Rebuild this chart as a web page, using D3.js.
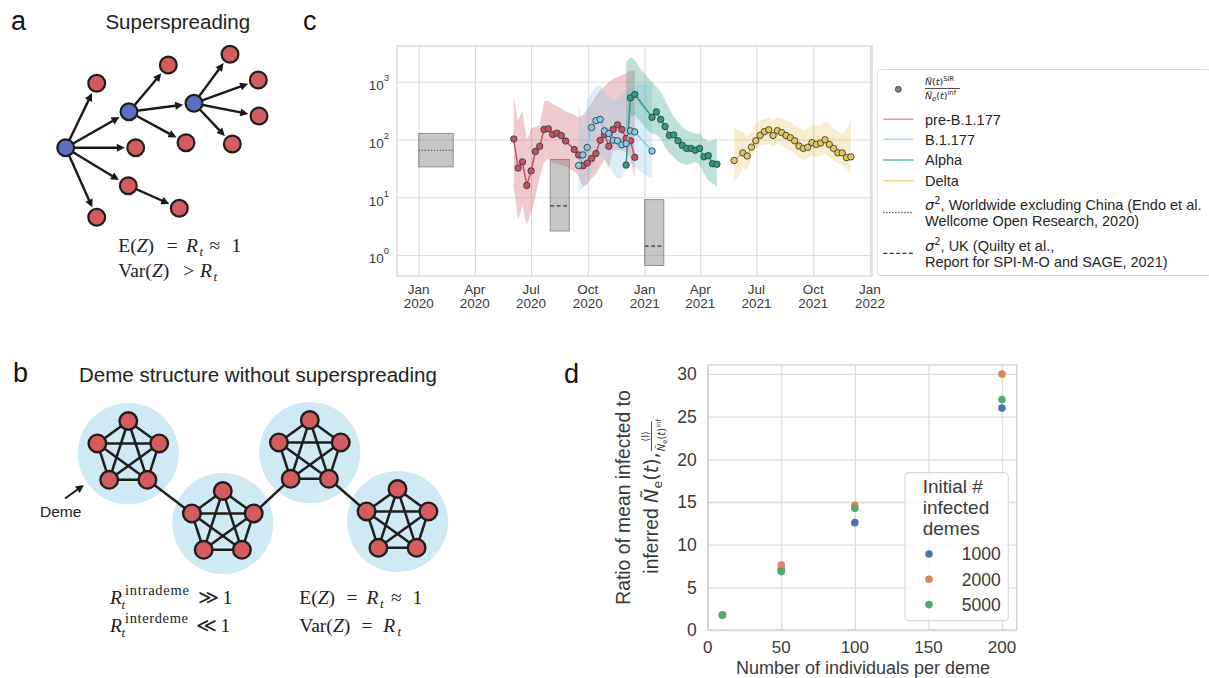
<!DOCTYPE html>
<html>
<head>
<meta charset="utf-8">
<script src="https://cdn.jsdelivr.net/npm/d3@7"></script>
<style>
  body { margin: 0; background: #fff; }
</style>
</head>
<body>
<svg id="fig" width="1209" height="678" font-family='"Liberation Sans", Arial, sans-serif'></svg>
<script>
// ================= data =================
// Panel c: weekly ratio of SIR-inferred to coalescent-inferred size, by lineage.
// Weeks are counted from weekOrigin; null = no estimate for that week.
const weekOrigin = "2020-06-03";

const preWeek  = [0,1,2,3,4,5,6,7,8,9,10,11,12,13,14,15,16,17,18,19,20,21,22,23,24,25,26,27,28];
const preRatio = [102,32,41,16,28.6,62,76,149,153,122,129,117,94,null,67,54,35,39,47,57,97,122,76,149,179,149,104,95,49];
const preLo    = [15,4.0,7.2,3.3,5.3,10,22,40,47,40,38,36,34,31,28,23,15,16.8,21,25,34,44,32,65,65,65,60,44,22];
const preHi    = [520,216,313,97,157,165,177,449,467,409,378,347,309,290,264,243,264,323,426,562,714,836,980,1140,1200,1300,1410,1530,1590];

const b1177Week  = [15,16,17,18,19,20,21,22,23,24,25,26,27,28,29,30,31,32];
const b1177Ratio = [35.4,54,72.6,161,212,222,141,127,97,95,81,85,141,135,null,null,null,63];
const b1177Lo    = [11.7,14.9,17.5,29,44,57,50,36,25.7,21,21.4,33,39,34,29,26,23,21];
const b1177Hi    = [430,145,480,627,815,870,668,548,480,480,633,714,805,870,910,910,926,936];

const alphaWeek  = [26,27,28,29,30,31,32,33,34,35,36,37,38,39,40,41,42,43,44,45,46,47];
const alphaRatio = [36,526,603,null,null,null,242,301,222,168,118,120,95,79,70,70,65,70,50,52.5,38,37.3];
const alphaLo    = [33,247,264,216,177,145,127,119,104,74,57,50,41,38,36,38,41,36,25.7,19.7,17.3,15];
const alphaHi    = [2180,2670,2370,1790,1470,1200,1000,816,668,480,344,247,202,165,145,135,127,127,104,91,97,104];

const deltaWeek  = [51,52,53,54,55,56,57,58,59,60,61,62,63,64,65,66,67,68,69,70,71,72,73,74,75,76,77,78];
const deltaRatio = [43.3,null,58.6,51.8,73.6,95,118,137,147,117,142,131,117,107,95,77,70,73,88,82,87,99,82,70,58.6,58.6,48.4,50];
const deltaLo    = [18.4,22,33,29,50,70,80,80,85,74.5,85,80,70,65,57,47,44,47,53,50,53,57,50,44,38,36,31,26];
const deltaHi    = [155,145,135,111,135,189,216,231,246,216,246,231,216,202,177,155,145,155,189,177,177,202,189,155,135,127,145,216];

// Published offspring-variance estimates (sigma^2): period and range
const sigmaStart = ["2020-01-01", "2020-08-01", "2021-01-01"];
const sigmaEnd   = ["2020-02-26", "2020-09-01", "2021-02-01"];
const sigmaLo    = [33.5, 2.6, 0.66];
const sigmaHi    = [127, 45, 9.1];
const sigmaMid   = [65, 7.1, 1.43];

const cTickDates  = ["2020-01-01","2020-04-01","2020-07-01","2020-10-01","2021-01-01","2021-04-01","2021-07-01","2021-10-01","2022-01-01"];
const cTickMonth  = ["Jan","Apr","Jul","Oct","Jan","Apr","Jul","Oct","Jan"];
const cTickYear   = ["2020","2020","2020","2020","2021","2021","2021","2021","2022"];
const cYTicks     = [1, 10, 100, 1000];
const cYExponents = ["0","1","2","3"];

const lineageNames = ["pre-B.1.177", "B.1.177", "Alpha", "Delta"];
const sigmaLabels = [
  ["Worldwide excluding China (Endo et al.", "Wellcome Open Research, 2020)"],
  ["UK (Quilty et al.,", "Report for SPI-M-O and SAGE, 2021)"]
];

// Panel d: ratio of mean infected to inferred size vs deme size
const demeSizes    = [10, 50, 100, 200];
const initialDemes = ["1000", "2000", "5000"];
const ratio1000    = [1.75, 7.15, 12.58, 26.0];
const ratio2000    = [1.75, 7.62, 14.6, 30.0];
const ratio5000    = [1.76, 6.84, 14.26, 27.0];
const dXTicks = [0, 50, 100, 150, 200];
const dYTicks = [0, 5, 10, 15, 20, 25, 30];

// Panel a: transmission tree (x, y, 1 = superspreader)
const treeNodes = [
  [65.7,147.7,1],[129,111.7,1],[194,103.3,1],
  [96.7,83.3,0],[168.3,65,0],[230,54.3,0],[258.3,80,0],[259,116,0],[232.3,144,0],
  [186,142.7,0],[135.7,147.7,0],[128.3,185.7,0],[179.3,208.3,0],[96.7,217.3,0]
];
const treeEdges = [[0,3],[0,1],[0,10],[0,11],[0,13],[1,4],[1,2],[1,9],[2,5],[2,6],[2,7],[2,8],[11,12]];

// Panel b: demes (centres) and the links between them [deme, node, deme, node]
const demeCenters = [[128.3,453.5],[222.8,523.5],[309.8,452.5],[397.5,521.5]];
const demeLinks = [[0,2,1,4],[1,1,2,3],[2,2,3,4]];

// ================= drawing =================
const svg = d3.select("#fig");
const parseDay = d3.timeParse("%Y-%m-%d");
const origin = parseDay(weekOrigin);
const SERIF = '"Liberation Serif", "Times New Roman", serif';
const MATH = '"DejaVu Sans", sans-serif';
const INK = "#262626";
const GRID = "#dcdcdc";
const RED = "#d45c5e", BLUE = "#5b6fc2", NODE_EDGE = "#1e1e1e";

const defs = svg.append("defs");
defs.append("marker").attr("id", "arrowHead")
  .attr("viewBox", "0 0 10 10").attr("refX", 5).attr("refY", 5)
  .attr("markerUnits", "userSpaceOnUse").attr("markerWidth", 10).attr("markerHeight", 8)
  .attr("orient", "auto")
  .append("path").attr("d", "M0,0 L10,5 L0,10 z").attr("fill", "#1a1a1a");

// panel letters
[["a",11,29.5],["b",13,381.5],["c",303,30],["d",564,382.5]].forEach(([s,x,y]) =>
  svg.append("text").attr("x", x).attr("y", y).attr("font-size", 27).attr("fill", "#111").text(s));

// math helper: pieces = [{t, x, it, dy, fs, len}]
function mathLine(g, y, pieces, fs) {
  const t = g.append("text").attr("y", y).attr("font-family", SERIF).attr("font-size", fs).attr("fill", "#222");
  pieces.forEach(p => {
    const s = t.append("tspan").text(p.t);
    if (p.x != null) s.attr("x", p.x);
    if (p.it) s.attr("font-style", "italic");
    if (p.dy) s.attr("dy", p.dy);
    if (p.fs) s.attr("font-size", p.fs);
    if (p.len) s.attr("textLength", p.len).attr("lengthAdjust", "spacing");
  });
  return t;
}

// ---------- panel a ----------
const gA = svg.append("g");
gA.append("text").attr("x", 177.8).attr("y", 29).attr("text-anchor", "middle")
  .attr("font-size", 20.5).attr("fill", "#222").text("Superspreading");
const nodeR = 9.4;
treeEdges.forEach(([s, t]) => {
  const [x1, y1] = treeNodes[s], [x2, y2] = treeNodes[t];
  const dx = x2 - x1, dy = y2 - y1, L = Math.hypot(dx, dy);
  const back = nodeR + 0.5 + 5;
  gA.append("line").attr("x1", x1).attr("y1", y1)
    .attr("x2", x2 - dx / L * back).attr("y2", y2 - dy / L * back)
    .attr("stroke", "#1a1a1a").attr("stroke-width", 2.4).attr("marker-end", "url(#arrowHead)");
});
gA.selectAll("circle").data(treeNodes).join("circle")
  .attr("cx", d => d[0]).attr("cy", d => d[1]).attr("r", nodeR - 1)
  .attr("fill", d => d[2] ? BLUE : RED).attr("stroke", NODE_EDGE).attr("stroke-width", 2.2);

mathLine(gA, 252.3, [
  {t:"E(", x:118.3}, {t:"Z", it:true}, {t:")"}, {t:"=", x:166.7}, {t:"R", x:186, it:true},
  {t:"t", x:199.5, it:true, dy:4, fs:13}, {t:"≈", x:209.5, dy:-4}, {t:"1", x:231.5}
], 19.5);
mathLine(gA, 277.3, [
  {t:"Var(", x:118.3}, {t:"Z", it:true}, {t:")"}, {t:">", x:183.3}, {t:"R", x:200, it:true},
  {t:"t", x:213.5, it:true, dy:4, fs:13}
], 19.5);

// ---------- panel b ----------
const gB = svg.append("g");
gB.append("text").attr("x", 79).attr("y", 381.5).attr("font-size", 20.5).attr("fill", "#222")
  .text("Deme structure without superspreading");
const pentR = 32.5, demeR = 50.5, bNodeR = 10;
const pentAngles = [-90, -18, 54, 126, 198].map(a => a * Math.PI / 180);
const demeNodes = demeCenters.map(([cx, cy]) => pentAngles.map(a => [cx + pentR * Math.cos(a), cy + pentR * Math.sin(a)]));
gB.selectAll("circle.deme").data(demeCenters).join("circle").attr("class", "deme")
  .attr("cx", d => d[0]).attr("cy", d => d[1]).attr("r", demeR).attr("fill", "#cfeaf4");
demeLinks.forEach(([d1, n1, d2, n2]) => {
  const a = demeNodes[d1][n1], b = demeNodes[d2][n2];
  gB.append("line").attr("x1", a[0]).attr("y1", a[1]).attr("x2", b[0]).attr("y2", b[1])
    .attr("stroke", "#1e1e1e").attr("stroke-width", 2.5);
});
demeNodes.forEach(nodes => {
  for (let i = 0; i < 5; i++) for (let j = i + 1; j < 5; j++) {
    gB.append("line").attr("x1", nodes[i][0]).attr("y1", nodes[i][1])
      .attr("x2", nodes[j][0]).attr("y2", nodes[j][1])
      .attr("stroke", "#1e1e1e").attr("stroke-width", 2.5);
  }
  nodes.forEach(n => gB.append("circle").attr("cx", n[0]).attr("cy", n[1]).attr("r", bNodeR - 1.2)
    .attr("fill", RED).attr("stroke", NODE_EDGE).attr("stroke-width", 2.4));
});
gB.append("text").attr("x", 40).attr("y", 516.7).attr("font-size", 15.5).attr("fill", "#222").text("Deme");
gB.append("line").attr("x1", 65).attr("y1", 498.5).attr("x2", 80.6).attr("y2", 487.3)
  .attr("stroke", "#1a1a1a").attr("stroke-width", 2).attr("marker-end", "url(#arrowHead)");

mathLine(gB, 604, [
  {t:"R", x:110, it:true}, {t:"intrademe", x:125, dy:-9.5, fs:14.5, len:64},
  {t:"t", x:121.5, it:true, dy:14, fs:13}, {t:"≫", x:197.5, dy:-4.5}, {t:"1", x:222.5}
], 19.5);
mathLine(gB, 632, [
  {t:"R", x:110, it:true}, {t:"interdeme", x:125, dy:-9.5, fs:14.5, len:63},
  {t:"t", x:121.5, it:true, dy:14, fs:13}, {t:"≪", x:196, dy:-4.5}, {t:"1", x:220.5}
], 19.5);
mathLine(gB, 604, [
  {t:"E(", x:299.3}, {t:"Z", it:true}, {t:")"}, {t:"=", x:346.5}, {t:"R", x:366.5, it:true},
  {t:"t", x:380, it:true, dy:4, fs:13}, {t:"≈", x:391, dy:-4}, {t:"1", x:412.5}
], 19.5);
mathLine(gB, 632, [
  {t:"Var(", x:299.3}, {t:"Z", it:true}, {t:")"}, {t:"=", x:361.5}, {t:"R", x:383.3, it:true},
  {t:"t", x:397.5, it:true, dy:4, fs:13}
], 19.5);

// ---------- panel c ----------
const cBox = {l: 397, r: 872, t: 46, b: 276};
const xC = d3.scaleTime().domain([parseDay("2020-01-01"), parseDay("2022-01-01")]).range([418.7, 870]);
const yC = d3.scaleLog().domain([1, 1000]).range([255, 81.7]);
const gC = svg.append("g");

gC.append("g").attr("transform", `translate(0,${cBox.b})`)
  .call(d3.axisBottom(xC).tickValues(cTickDates.map(parseDay)).tickSize(-(cBox.b - cBox.t)).tickFormat(""))
  .call(g => { g.select(".domain").remove(); g.selectAll("line").attr("stroke", GRID).attr("stroke-width", 1.1); });
gC.append("g").attr("transform", `translate(${cBox.l},0)`)
  .call(d3.axisLeft(yC).tickValues(cYTicks).tickSize(-(cBox.r - cBox.l)).tickFormat(""))
  .call(g => { g.select(".domain").remove(); g.selectAll("line").attr("stroke", GRID).attr("stroke-width", 1.1); });
gC.append("rect").attr("x", cBox.l).attr("y", cBox.t).attr("width", cBox.r - cBox.l).attr("height", cBox.b - cBox.t)
  .attr("fill", "none").attr("stroke", "#d2d2d2").attr("stroke-width", 1.2);

cTickDates.forEach((d, i) => {
  const t = gC.append("text").attr("text-anchor", "middle").attr("font-size", 13.5).attr("fill", "#3a3a3a");
  t.append("tspan").attr("x", xC(parseDay(d))).attr("y", 294.3).text(cTickMonth[i]);
  t.append("tspan").attr("x", xC(parseDay(d))).attr("y", 308.3).text(cTickYear[i]);
});
cYTicks.forEach((v, i) => {
  const t = gC.append("text").attr("x", 389).attr("y", yC(v) + 8.3).attr("text-anchor", "end")
    .attr("font-size", 13.5).attr("fill", "#3a3a3a");
  t.append("tspan").text("10");
  t.append("tspan").attr("dy", -8.8).attr("font-size", 9.5).text(cYExponents[i]);
});

defs.append("clipPath").attr("id", "clipC").append("rect")
  .attr("x", cBox.l).attr("y", cBox.t).attr("width", cBox.r - cBox.l).attr("height", cBox.b - cBox.t);
const plotC = gC.append("g").attr("clip-path", "url(#clipC)");

const lineageColor = ["#c9505f", "#84caeb", "#2f9c86", "#e2c65c"];
const legendLineColor = ["#e59aa5", "#9fd6f0", "#5fb9a4", "#ecd680"];
const lineageData = [
  [preWeek, preRatio, preLo, preHi],
  [b1177Week, b1177Ratio, b1177Lo, b1177Hi],
  [alphaWeek, alphaRatio, alphaLo, alphaHi],
  [deltaWeek, deltaRatio, deltaLo, deltaHi]
].map(([w, r, lo, hi]) => w.map((wk, i) => ({date: d3.timeDay.offset(origin, 7 * wk), ratio: r[i], lo: lo[i], hi: hi[i]})));

const band = d3.area().x(d => xC(d.date)).y0(d => yC(d.lo)).y1(d => yC(d.hi));
lineageData.forEach((rows, i) => {
  plotC.append("path").datum(rows).attr("d", band)
    .attr("fill", lineageColor[i]).attr("fill-opacity", 0.3).attr("stroke", "none");
});

// sigma^2 boxes
sigmaStart.forEach((s, i) => {
  const x0 = xC(parseDay(s)), x1 = xC(parseDay(sigmaEnd[i]));
  plotC.append("rect").attr("x", x0).attr("y", yC(sigmaHi[i])).attr("width", x1 - x0)
    .attr("height", yC(sigmaLo[i]) - yC(sigmaHi[i]))
    .attr("fill", "#808080").attr("fill-opacity", 0.45).attr("stroke", "#707070").attr("stroke-opacity", 0.7).attr("stroke-width", 1);
  plotC.append("line").attr("x1", x0).attr("x2", x1).attr("y1", yC(sigmaMid[i])).attr("y2", yC(sigmaMid[i]))
    .attr("stroke", "#3a3a3a").attr("stroke-width", 1.2)
    .attr("stroke-dasharray", i === 0 ? "1.2,1.8" : "4,2.4");
});

// lineage lines and points; Alpha drawn first so later lineages sit on top
const ratioLine = d3.line().x(d => xC(d.date)).y(d => yC(d.ratio));
[2, 0, 1, 3].forEach(i => {
  const pts = lineageData[i].filter(d => d.ratio != null);
  plotC.append("path").datum(pts).attr("d", ratioLine)
    .attr("fill", "none").attr("stroke", lineageColor[i]).attr("stroke-width", 1.5);
  plotC.selectAll(null).data(pts).join("circle")
    .attr("cx", d => xC(d.date)).attr("cy", d => yC(d.ratio)).attr("r", 3.2)
    .attr("fill", lineageColor[i]).attr("stroke", "#3c3c3c").attr("stroke-width", 0.9);
});

// legend c
const lgC = gC.append("g");
lgC.append("rect").attr("x", 877.5).attr("y", 69.5).attr("width", 333).attr("height", 206).attr("rx", 3)
  .attr("fill", "#fff").attr("stroke", "#d9d9d9");
lgC.append("circle").attr("cx", 898.3).attr("cy", 89.3).attr("r", 3).attr("fill", "#7f7f7f").attr("stroke", "#404040").attr("stroke-width", 0.8);
{
  const num = lgC.append("text").attr("x", 925).attr("y", 85).attr("font-family", MATH).attr("font-size", 9.5).attr("fill", INK);
  num.append("tspan").attr("font-style", "italic").text("Ñ");
  num.append("tspan").text("(");
  num.append("tspan").attr("font-style", "italic").text("t");
  num.append("tspan").text(")");
  num.append("tspan").attr("dy", -4).attr("font-size", 6.8).text("SIR");
  lgC.append("line").attr("x1", 925).attr("x2", 960).attr("y1", 88.5).attr("y2", 88.5).attr("stroke", INK).attr("stroke-width", 0.8);
  const den = lgC.append("text").attr("x", 925).attr("y", 98.5).attr("font-family", MATH).attr("font-size", 9.5).attr("fill", INK);
  den.append("tspan").attr("font-style", "italic").text("Ñ");
  den.append("tspan").attr("dy", 2).attr("font-size", 6.8).attr("font-style", "italic").text("e");
  den.append("tspan").attr("dy", -2).text("(");
  den.append("tspan").attr("font-style", "italic").text("t");
  den.append("tspan").text(")");
  den.append("tspan").attr("dy", -4).attr("font-size", 6.8).text("inf");
}
const legRowY = [119.3, 139.3, 160, 180.7];
lineageNames.forEach((n, i) => {
  lgC.append("line").attr("x1", 883.3).attr("x2", 913.3).attr("y1", legRowY[i]).attr("y2", legRowY[i])
    .attr("stroke", legendLineColor[i]).attr("stroke-width", 1.5);
  lgC.append("text").attr("x", 925).attr("y", legRowY[i] + 5.2).attr("font-size", 14.5).attr("fill", INK).text(n);
});
[[212.7, "1.2,1.8", 210, 225.5], [253.3, "4,2.4", 250.5, 267]].forEach(([ly, dash, b1, b2], i) => {
  lgC.append("line").attr("x1", 883.3).attr("x2", 913.3).attr("y1", ly).attr("y2", ly)
    .attr("stroke", "#3a3a3a").attr("stroke-width", 1.2).attr("stroke-dasharray", dash);
  const t1 = lgC.append("text").attr("x", 925).attr("y", b1).attr("font-size", 14.5).attr("fill", INK);
  t1.append("tspan").attr("font-family", MATH).attr("font-style", "italic").text("σ");
  t1.append("tspan").attr("font-family", MATH).attr("font-size", 10).attr("dy", -6).text("2");
  t1.append("tspan").attr("dy", 6).text(", " + sigmaLabels[i][0]);
  lgC.append("text").attr("x", 925).attr("y", b2).attr("font-size", 14.5).attr("fill", INK).text(sigmaLabels[i][1]);
});

// ---------- panel d ----------
const dBox = {l: 707.7, r: 1016.7, t: 365, b: 630};
const xD = d3.scaleLinear().domain([0, 210]).range([dBox.l, dBox.r]);
const yD = d3.scaleLinear().domain([0, 31.05]).range([dBox.b, dBox.t]);
const gD = svg.append("g");
gD.append("g").attr("transform", `translate(0,${dBox.b})`)
  .call(d3.axisBottom(xD).tickValues(dXTicks).tickSize(-(dBox.b - dBox.t)).tickFormat(""))
  .call(g => { g.select(".domain").remove(); g.selectAll("line").attr("stroke", GRID).attr("stroke-width", 1.3); });
gD.append("g").attr("transform", `translate(${dBox.l},0)`)
  .call(d3.axisLeft(yD).tickValues(dYTicks).tickSize(-(dBox.r - dBox.l)).tickFormat(""))
  .call(g => { g.select(".domain").remove(); g.selectAll("line").attr("stroke", GRID).attr("stroke-width", 1.3); });
gD.append("rect").attr("x", dBox.l).attr("y", dBox.t).attr("width", dBox.r - dBox.l).attr("height", dBox.b - dBox.t)
  .attr("fill", "none").attr("stroke", "#d2d2d2").attr("stroke-width", 1.4);
dXTicks.forEach(v => gD.append("text").attr("x", xD(v)).attr("y", 653).attr("text-anchor", "middle")
  .attr("font-size", 17).attr("fill", "#3a3a3a").text(v));
dYTicks.forEach(v => gD.append("text").attr("x", 696.7).attr("y", yD(v) + 6.2).attr("text-anchor", "end")
  .attr("font-size", 17.5).attr("fill", "#3a3a3a").text(v));
gD.append("text").attr("x", 863).attr("y", 674).attr("text-anchor", "middle").attr("font-size", 18)
  .attr("fill", "#3a3a3a").text("Number of individuals per deme");

// y label, two rotated lines
gD.append("text").attr("transform", "translate(629.5,497.5) rotate(-90)").attr("text-anchor", "middle")
  .attr("font-size", 19.3).attr("fill", "#3a3a3a").text("Ratio of mean infected to");
{
  const g2 = gD.append("g");
  const inner = g2.append("g");
  const t = inner.append("text").attr("x", 0).attr("y", 0).attr("font-size", 19.3).attr("fill", "#3a3a3a");
  t.append("tspan").text("inferred ");
  t.append("tspan").attr("font-family", MATH).attr("font-style", "italic").attr("font-size", 19).text("Ñ");
  t.append("tspan").attr("font-family", MATH).attr("font-size", 13).attr("dy", 4).text("e");
  t.append("tspan").attr("font-family", MATH).attr("font-size", 19).attr("dy", -4).text("(");
  t.append("tspan").attr("font-family", MATH).attr("font-style", "italic").attr("font-size", 19).text("t");
  t.append("tspan").attr("font-family", MATH).attr("font-size", 19).text("), ");
  const L1 = t.node().getComputedTextLength();
  const fw = 30;
  const nx = L1 + 1;
  inner.append("text").attr("x", nx + fw / 2).attr("y", -9).attr("text-anchor", "middle")
    .attr("font-family", MATH).attr("font-size", 10).attr("fill", "#3a3a3a").text("⟨I⟩");
  inner.append("line").attr("x1", nx).attr("x2", nx + fw).attr("y1", -6.5).attr("y2", -6.5)
    .attr("stroke", "#3a3a3a").attr("stroke-width", 0.9);
  const den = inner.append("text").attr("x", nx).attr("y", 7).attr("font-family", MATH).attr("font-size", 10).attr("fill", "#3a3a3a");
  den.append("tspan").attr("font-style", "italic").text("Ñ");
  den.append("tspan").attr("font-size", 7).attr("dy", 2).text("e");
  den.append("tspan").attr("dy", -2).text("(");
  den.append("tspan").attr("font-style", "italic").text("t");
  den.append("tspan").text(")");
  den.append("tspan").attr("font-size", 7).attr("dy", -4).text("inf");
  const total = nx + fw;
  g2.attr("transform", `translate(658,497.5) rotate(-90) translate(${-total / 2},0)`);
}

const dColors = ["#4c72b0", "#dd8452", "#55a868"];
[ratio1000, ratio2000, ratio5000].forEach((vals, i) => {
  gD.selectAll(null).data(vals).join("circle")
    .attr("cx", (d, j) => xD(demeSizes[j])).attr("cy", d => yD(d)).attr("r", 3.8)
    .attr("fill", dColors[i]);
});

// legend d
gD.append("rect").attr("x", 905).attr("y", 472.7).attr("width", 103.3).attr("height", 148).attr("rx", 4)
  .attr("fill", "#fff").attr("fill-opacity", 0.85).attr("stroke", "#d9d9d9").attr("stroke-width", 1.2);
["Initial #", "infected", "demes"].forEach((s, i) => gD.append("text").attr("x", 922.7).attr("y", 493.3 + i * 20.8)
  .attr("font-size", 19).attr("fill", "#3a3a3a").text(s));
initialDemes.forEach((s, i) => {
  const y = 554 + i * 25.3;
  gD.append("circle").attr("cx", 929).attr("cy", y).attr("r", 3.8).attr("fill", dColors[i]);
  gD.append("text").attr("x", 1000.7).attr("y", y + 6.3).attr("text-anchor", "end")
    .attr("font-size", 17.5).attr("fill", "#3a3a3a").text(s);
});
</script>
</body>
</html>
